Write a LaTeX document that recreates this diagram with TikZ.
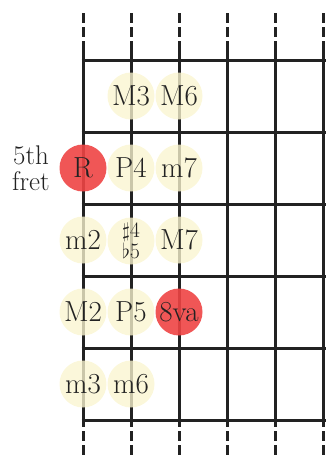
\documentclass[tikz,border=0pt]{standalone}
\begin{document}
\begin{tikzpicture}[x=1pt,y=-1pt,
  ink/.style={line width=3pt,draw=inkc},
  note/.style={circle,minimum size=47pt,inner sep=0pt,fill=notey,fill opacity=0.78,text opacity=1,text=inkc,font=\fontsize{29}{29}\selectfont},
  rootnote/.style={note,fill=rootr,fill opacity=0.9},
  fretlabel/.style={align=center,text=inkc,font=\fontsize{27}{26}\selectfont}
]
\definecolor{inkc}{HTML}{222222}
\definecolor{notey}{HTML}{FAF5CF}
\definecolor{rootr}{HTML}{EE4444}
\useasboundingbox (0,0) rectangle (326,456);
% strings
\foreach \x in {83,131,179,227,275,323}{
  \draw[ink,dash pattern=on 10pt off 4pt] (\x,13) -- (\x,46);
  \draw[ink] (\x,46) -- (\x,427);
  \draw[ink,dash pattern=on 10pt off 4pt] (\x,431) -- (\x,460);
}
% frets
\foreach \y in {60,132,204,276,348,420}{
  \draw[ink] (81.5,\y) -- (326,\y);
}
% notes
\node[note] (m3a) at (131,96) {M3};
\node[note] (m6a) at (179,96) {M6};
\node[rootnote] (root) at (83,168) {R};
\node[note] (p4) at (131,168) {P4};
\node[note] (m7) at (179,168) {m7};
\node[note] (m2) at (83,240) {m2};
\node[note,font=\fontsize{22}{18}\selectfont,align=center] (tt) at (131,241) {$\sharp$4\\$\flat$5};
\node[note] (bigM7) at (179,240) {M7};
\node[note] (bigM2) at (83,312) {M2};
\node[note] (p5) at (131,312) {P5};
\node[rootnote] (oct) at (179,312) {8va};
\node[note] (smallm3) at (83,384) {m3};
\node[note] (smallm6) at (131,384) {m6};
\node[fretlabel] (fret) at (31,168) {5th\\fret};
\end{tikzpicture}
\end{document}
